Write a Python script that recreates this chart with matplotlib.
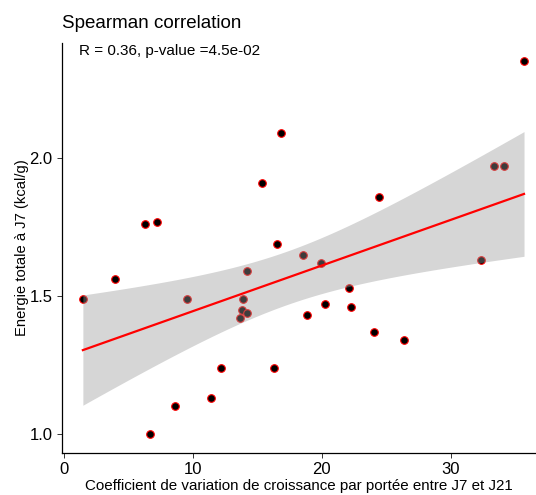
import numpy as np
import matplotlib
matplotlib.use("Agg")
import matplotlib.pyplot as plt

plt.rcParams['font.family'] = ['Liberation Sans', 'DejaVu Sans']

# coefficient of variation of growth (x) and total energy at J7 (y)
cv_croissance = [1.44, 3.95, 6.25, 7.21, 6.67, 8.59, 9.54, 12.16, 11.36, 16.30,
                 13.89, 13.79, 14.18, 13.61, 14.18, 16.85, 15.37, 16.53, 18.51, 19.95,
                 24.46, 22.08, 20.26, 22.26, 18.87, 24.03, 26.40, 32.33, 33.34, 34.12,
                 35.69]
energie_j7 = [1.49, 1.56, 1.76, 1.77, 1.00, 1.10, 1.49, 1.24, 1.13, 1.24,
              1.49, 1.45, 1.44, 1.42, 1.59, 2.09, 1.91, 1.69, 1.65, 1.62,
              1.86, 1.53, 1.47, 1.46, 1.43, 1.37, 1.34, 1.63, 1.97, 1.97,
              2.35]
x_ticks = [0, 10, 20, 30]
y_ticks = [1.0, 1.5, 2.0]
annot = "R = 0.36, p-value =4.5e-02"

x = np.array(cv_croissance)
y = np.array(energie_j7)

# linear fit with 95% confidence band (like geom_smooth(method="lm"))
n = len(x)
slope, intercept = np.polyfit(x, y, 1)
resid = y - (slope * x + intercept)
s = np.sqrt(np.sum(resid ** 2) / (n - 2))
sxx = np.sum((x - x.mean()) ** 2)
t_val = 2.045  # t(0.975, df=29)
xs = np.linspace(x.min(), x.max(), 100)
ys = slope * xs + intercept
se = s * np.sqrt(1.0 / n + (xs - x.mean()) ** 2 / sxx)

fig = plt.figure(figsize=(5.36, 4.95), dpi=100)
ax = fig.add_axes([62 / 536, (495 - 452.7) / 495, (536 - 62) / 536, (452.7 - 43) / 495])

ax.scatter(x, y, s=30, c='black', edgecolors='red', linewidths=0.8, zorder=2)
ax.fill_between(xs, ys - t_val * se, ys + t_val * se, color=(0.6, 0.6, 0.6),
                alpha=0.4, linewidth=0, zorder=3)
ax.plot(xs, ys, color='red', lw=1.6, zorder=4)

ax.set_xlim(-0.18, 36.62)
ax.set_ylim(0.932, 2.417)
ax.set_xticks(x_ticks)
ax.set_yticks(y_ticks)
ax.set_yticklabels(["%.1f" % v for v in y_ticks])
ax.tick_params(labelsize=12, length=3.5, width=0.7, colors='#333333', labelcolor='black')

for side in ['top', 'right']:
    ax.spines[side].set_visible(False)
for side in ['left', 'bottom']:
    ax.spines[side].set_linewidth(0.9)

ax.set_xlabel("Coefficient de variation de croissance par portée entre J7 et J21",
              fontsize=10.9, labelpad=1)
ax.set_ylabel("Energie totale à J7 (kcal/g)", fontsize=10.6, labelpad=0)

ax.text(1.14, 2.388, annot, fontsize=11, ha='left', va='center')
fig.text(62 / 536, 1 - 24 / 495, "Spearman correlation", fontsize=13.5,
         ha='left', va='center')

fig.savefig("out.png", dpi=100)
